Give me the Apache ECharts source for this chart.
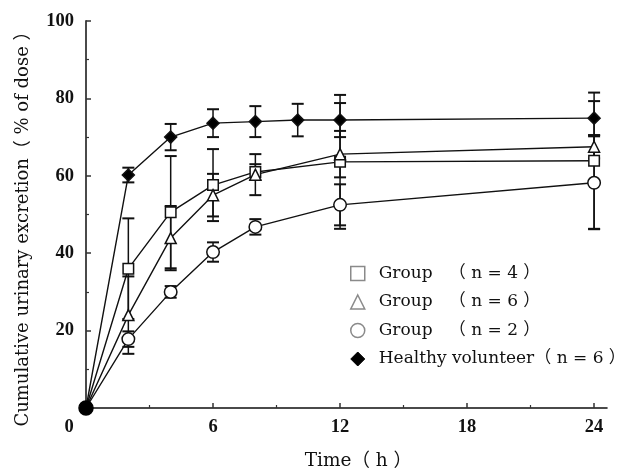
<!DOCTYPE html>
<html><head><meta charset="utf-8">
<script src="https://cdn.jsdelivr.net/npm/echarts@6/dist/echarts.min.js"></script>
<style>html,body{margin:0;padding:0;background:#fff}#c{width:618px;height:472px}</style>
</head><body><div id="c"></div>
<script>
const groupTimes = [0, 2, 4, 6, 8, 12, 24];
const healthyTimes = [0, 2, 4, 6, 8, 10, 12, 24];
const squareMean = [0, 36.0, 50.6, 57.6, 61.0, 63.6, 63.9];
const squareSD = [0, 13.0, 14.5, 9.3, 2.0, 17.3, 17.6];
const triangleMean = [0, 24.0, 43.9, 55.0, 60.3, 65.6, 67.5];
const triangleSD = [0, 10.0, 8.3, 5.5, 5.3, 6.0, 3.0];
const circleMean = [0, 17.8, 30.0, 40.3, 46.8, 52.5, 58.2];
const circleSD = [0, 2.0, 1.5, 2.5, 2.0, 5.3, 12.0];
const healthyMean = [0, 60.2, 70.0, 73.6, 74.0, 74.4, 74.4, 74.9];
const healthySD = [0, 1.9, 3.4, 3.6, 4.0, 4.2, 4.4, 4.4];
const xLabelValues = [0, 6, 12, 18, 24];
const xMajorTicks = [6, 12, 18, 24];
const xMinorTicks = [3, 9, 15, 21];
const seriesNames = ['Group   （ n = 4 ）', 'Group   （ n = 6 ）', 'Group   （ n = 2 ）', 'Healthy volunteer（ n = 6 ）'];
const xName = 'Time（ h ）';
const yName = 'Cumulative urinary excretion（ % of dose ）';

const INK = '#111';
const serif = 'DejaVu Serif, Noto Sans CJK SC, serif';
const tickFont = { fontFamily: 'Liberation Serif, serif', fontWeight: 'bold', fontSize: 18.5, color: INK };

function errorSeries(times, mean, sd) {
  return {
    type: 'custom', silent: true, z: 1,
    encode: { x: 0, y: [1, 2] },
    data: times.map((t, i) => [t, mean[i] - sd[i], mean[i] + sd[i]]).filter((d, i) => sd[i] > 0),
    renderItem(params, api) {
      const x = api.value(0);
      const lo = api.coord([x, api.value(1)]);
      const hi = api.coord([x, api.value(2)]);
      const hw = 6;
      const st = { stroke: INK, lineWidth: 1.5, fill: null };
      const cap = { stroke: INK, lineWidth: 2, fill: null };
      return { type: 'group', children: [
        { type: 'line', shape: { x1: lo[0], y1: lo[1], x2: hi[0], y2: hi[1] }, style: st },
        { type: 'line', shape: { x1: lo[0] - hw, y1: lo[1], x2: lo[0] + hw, y2: lo[1] }, style: cap },
        { type: 'line', shape: { x1: hi[0] - hw, y1: hi[1], x2: hi[0] + hw, y2: hi[1] }, style: cap }
      ] };
    }
  };
}

function lineSeries(name, times, mean, symbol, size, fill, z, originDot) {
  return {
    type: 'line', name, z,
    symbol, symbolSize: size, showAllSymbol: true,
    lineStyle: { color: INK, width: 1.4 },
    itemStyle: { color: fill, borderColor: INK, borderWidth: 1.5 },
    emphasis: { disabled: true },
    data: times.map((t, i) => {
      if (i === 0) {
        return originDot
          ? { value: [t, mean[i]], symbol: 'circle', symbolSize: 14, itemStyle: { color: '#000', borderColor: '#000' } }
          : { value: [t, mean[i]], symbol: 'none' };
      }
      return { value: [t, mean[i]] };
    })
  };
}

const chart = echarts.init(document.getElementById('c'), null, { renderer: 'canvas' });
chart.setOption({
  animation: false,
  backgroundColor: '#fff',
  grid: { left: 86, top: 21, width: 520.8, height: 387, containLabel: false, outerBoundsMode: 'none' },
  legend: {
    orient: 'vertical', left: 350, top: 265, itemGap: 11.5, padding: 0,
    itemWidth: 14, itemHeight: 14, selectedMode: false,
    textStyle: { fontFamily: serif, fontSize: 17, color: INK, padding: [0, 0, 0, 9] },
    data: [
      { name: seriesNames[0], icon: 'rect', itemStyle: { color: '#fff', borderColor: '#8a8a8a', borderWidth: 1.5 } },
      { name: seriesNames[1], icon: 'triangle', itemStyle: { color: '#fff', borderColor: '#8a8a8a', borderWidth: 1.5 } },
      { name: seriesNames[2], icon: 'circle', itemStyle: { color: '#fff', borderColor: '#8a8a8a', borderWidth: 1.5 } },
      { name: seriesNames[3], icon: 'diamond', itemStyle: { color: '#000', borderColor: '#000', borderWidth: 1 } }
    ]
  },
  xAxis: [{
    type: 'value', min: 0, max: 24.6, interval: 6,
    axisLine: { show: true, onZero: false, lineStyle: { color: '#4a4a4a', width: 2 } },
    axisTick: { show: true, inside: true, length: 5, customValues: xMajorTicks, lineStyle: { color: '#333', width: 1.5 } },
    splitLine: { show: false },
    axisLabel: {
      customValues: xLabelValues, margin: 10, ...tickFont,
      formatter: v => v === 0 ? '{z|0}' : String(v),
      rich: { z: { ...tickFont, padding: [0, 34, 0, 0] } }
    },
    name: xName, nameLocation: 'middle', nameGap: 44,
    nameTextStyle: { fontFamily: serif, fontSize: 18.5, color: INK, padding: [0, 0, 0, 24] }
  }, {
    type: 'value', min: 0, max: 24.6, interval: 6, position: 'bottom',
    axisLine: { show: false },
    axisTick: { show: true, inside: true, length: 3, customValues: xMinorTicks, lineStyle: { color: '#333', width: 1.2 } },
    axisLabel: { show: false }, splitLine: { show: false }
  }],
  yAxis: {
    type: 'value', min: 0, max: 100, interval: 20,
    axisLine: { show: true, lineStyle: { color: '#4a4a4a', width: 2 } },
    axisTick: { show: true, inside: true, length: 5, lineStyle: { color: '#333', width: 1.5 } },
    minorTick: { show: true, splitNumber: 2, length: 3, lineStyle: { color: '#333', width: 1.2 } },
    splitLine: { show: false },
    axisLabel: { ...tickFont, margin: 12, padding: [8, 0, 0, 0], formatter: v => v === 0 ? '' : String(v) },
    name: yName, nameLocation: 'middle', nameGap: 54,
    nameTextStyle: { fontFamily: serif, fontSize: 18, color: INK, padding: [0, 20, 0, 0] }
  },
  series: [
    errorSeries(groupTimes, squareMean, squareSD),
    errorSeries(groupTimes, triangleMean, triangleSD),
    errorSeries(groupTimes, circleMean, circleSD),
    errorSeries(healthyTimes, healthyMean, healthySD),
    lineSeries(seriesNames[0], groupTimes, squareMean, 'rect', 10.5, '#fff', 3, false),
    lineSeries(seriesNames[1], groupTimes, triangleMean, 'triangle', 11, '#fff', 3, false),
    lineSeries(seriesNames[2], groupTimes, circleMean, 'circle', 12.5, '#fff', 3, false),
    lineSeries(seriesNames[3], healthyTimes, healthyMean, 'diamond', 12, '#000', 4, true)
  ]
});
</script>
</body></html>
